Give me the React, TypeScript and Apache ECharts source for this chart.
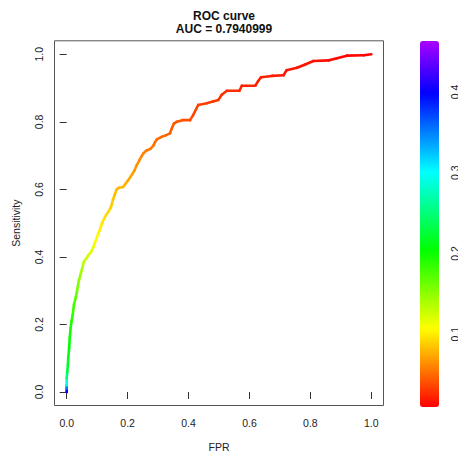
import React, { useEffect, useRef } from "react";
import * as echarts from "echarts";

// ROC curve points
const fpr = [
  0, 0, 0, 0, 0.002, 0.004, 0.005, 0.008, 0.01, 0.013, 0.016, 0.02, 0.024, 0.03, 0.034, 0.04,
  0.046, 0.052, 0.056, 0.064, 0.071, 0.08, 0.088, 0.092, 0.098, 0.104, 0.109, 0.116, 0.124, 0.13,
  0.138, 0.144, 0.148, 0.152, 0.158, 0.164, 0.172, 0.185, 0.192, 0.2, 0.208, 0.215, 0.222, 0.23,
  0.238, 0.245, 0.252, 0.262, 0.275, 0.285, 0.29, 0.296, 0.31, 0.325, 0.339, 0.345, 0.352, 0.361,
  0.38, 0.405, 0.415, 0.425, 0.432, 0.46, 0.48, 0.498, 0.509, 0.526, 0.567, 0.575, 0.619, 0.628,
  0.638, 0.674, 0.712, 0.722, 0.756, 0.783, 0.81, 0.86, 0.887, 0.92, 0.975, 1.0,
];
const tpr = [
  0, 0.01, 0.02, 0.04, 0.06, 0.08, 0.1, 0.13, 0.16, 0.19, 0.21, 0.23, 0.26, 0.28, 0.3, 0.33,
  0.35, 0.37, 0.385, 0.395, 0.405, 0.415, 0.43, 0.44, 0.455, 0.47, 0.48, 0.5, 0.515, 0.525,
  0.535, 0.545, 0.555, 0.57, 0.585, 0.6, 0.605, 0.607, 0.615, 0.625, 0.635, 0.645, 0.655, 0.672,
  0.685, 0.697, 0.707, 0.715, 0.72, 0.73, 0.74, 0.748, 0.755, 0.76, 0.766, 0.78, 0.795, 0.8,
  0.805, 0.805, 0.82, 0.838, 0.85, 0.855, 0.86, 0.865, 0.88, 0.892, 0.892, 0.907, 0.907, 0.92,
  0.932, 0.936, 0.938, 0.953, 0.96, 0.97, 0.98, 0.982, 0.988, 0.996, 0.997, 1.0,
];
const thr = [
  0.46, 0.4, 0.35, 0.29, 0.25, 0.225, 0.215, 0.21, 0.205, 0.199, 0.195, 0.19, 0.183, 0.175, 0.168, 0.158,
  0.15, 0.142, 0.135, 0.13, 0.126, 0.122, 0.117, 0.114, 0.11, 0.106, 0.104, 0.1, 0.097, 0.095,
  0.093, 0.091, 0.089, 0.087, 0.085, 0.082, 0.081, 0.08, 0.079, 0.077, 0.075, 0.074, 0.072, 0.068,
  0.065, 0.063, 0.061, 0.059, 0.058, 0.056, 0.054, 0.052, 0.051, 0.05, 0.049, 0.046, 0.044, 0.043,
  0.042, 0.041, 0.039, 0.037, 0.035, 0.034, 0.033, 0.032, 0.03, 0.028, 0.027, 0.025, 0.024, 0.023,
  0.022, 0.021, 0.02, 0.019, 0.018, 0.017, 0.016, 0.015, 0.014, 0.013, 0.012, 0.011,
];

const axisTicks = [0, 0.2, 0.4, 0.6, 0.8, 1.0];
const cbTicks = [0.1, 0.2, 0.3, 0.4];
const cbMin = 0.01;
const cbMax = 0.463;
const palette = [
  "#ff0000", "#ff5500", "#ffaa00", "#ffff00", "#aaff00", "#55ff00", "#00ff00", "#00ff55",
  "#00ffaa", "#00ffff", "#00aaff", "#0055ff", "#0000ff", "#5500ff", "#aa00ff",
];

const FONT = "Liberation Sans, Arial, Helvetica, sans-serif";

export default function App() {
  const ref = useRef<HTMLDivElement>(null);
  useEffect(() => {
    document.body.style.margin = "0";
    if (!ref.current) return;
    const chart = echarts.init(ref.current, null, { renderer: "svg" });
    const data = fpr.map((f, i) => [f, tpr[i], thr[i]]);
    const lbl = { fontFamily: FONT, fontSize: 10.5, color: "#222" };
    chart.setOption({
      animation: false,
      backgroundColor: "#fff",
      title: {
        text: "ROC curve\nAUC = 0.7940999",
        left: 219,
        top: 5,
        textAlign: "center",
        textStyle: { fontFamily: FONT, fontSize: 12, fontWeight: "bold", color: "#111", lineHeight: 12.5 },
      },
      grid: [
        {
          left: 54.5, top: 40.8, width: 329, height: 364.7, outerBoundsMode: "none", containLabel: false,
          show: true, borderColor: "#555", borderWidth: 1, backgroundColor: "transparent",
        },
        { left: 420, top: 41, width: 19, height: 366, outerBoundsMode: "none", containLabel: false },
      ],
      xAxis: [
        {
          gridIndex: 0, type: "value", min: -0.04, max: 1.04,
          axisLine: { show: false }, splitLine: { show: false },
          axisTick: { show: true, customValues: axisTicks, length: 7, lineStyle: { color: "#333" } },
          axisLabel: { ...lbl, customValues: axisTicks, margin: 12, formatter: (v: number) => v.toFixed(1) },
          name: "FPR", nameLocation: "middle", nameGap: 36,
          nameTextStyle: { fontFamily: FONT, fontSize: 10.5, color: "#222" },
        },
        { gridIndex: 1, type: "value", show: false, min: 0, max: 1 },
      ],
      yAxis: [
        {
          gridIndex: 0, type: "value", min: -0.04, max: 1.04,
          axisLine: { show: false }, splitLine: { show: false },
          axisTick: { show: true, customValues: axisTicks, length: 7, lineStyle: { color: "#333" } },
          axisLabel: { ...lbl, customValues: axisTicks, margin: 10, rotate: 90, formatter: (v: number) => v.toFixed(1) },
          name: "Sensitivity", nameLocation: "middle", nameGap: 33,
          nameTextStyle: { fontFamily: FONT, fontSize: 10.5, color: "#222" },
        },
        {
          gridIndex: 1, type: "value", min: cbMin, max: cbMax, position: "right",
          axisLine: { show: false }, splitLine: { show: false },
          axisTick: { show: true, customValues: cbTicks, length: 5, lineStyle: { color: "#333" } },
          axisLabel: { ...lbl, customValues: cbTicks, margin: 10, rotate: 90, formatter: (v: number) => v.toFixed(1) },
        },
      ],
      visualMap: {
        type: "continuous",
        min: cbMin,
        max: cbMax,
        dimension: 2,
        seriesIndex: 0,
        orient: "vertical",
        left: 420,
        top: 41,
        padding: 0,
        itemWidth: 19,
        itemHeight: 366,
        calculable: false,
        hoverLink: false,
        inRange: { color: palette },
      },
      series: [
        {
          type: "custom",
          xAxisIndex: 0,
          yAxisIndex: 0,
          data,
          encode: { x: 0, y: 1 },
          renderItem: (params: any, api: any) => {
            const i = params.dataIndexInside;
            const color = api.visual("color");
            const p1 = api.coord([api.value(0), api.value(1)]);
            if (i === 0) {
              return { type: "circle", shape: { cx: p1[0], cy: p1[1], r: 1.4 }, style: { fill: color } };
            }
            const p0 = api.coord([api.value(0, i - 1), api.value(1, i - 1)]);
            return {
              type: "line",
              shape: { x1: p0[0], y1: p0[1], x2: p1[0], y2: p1[1] },
              style: { stroke: color, lineWidth: 2.6, lineCap: "round" },
            };
          },
        },
      ],
    });
    return () => chart.dispose();
  }, []);
  return <div ref={ref} style={{ width: 458, height: 456 }} />;
}
